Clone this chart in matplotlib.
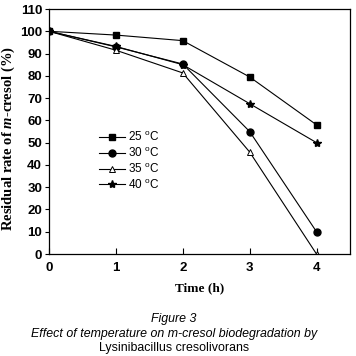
import matplotlib
matplotlib.use('Agg')
import matplotlib.pyplot as plt

plt.rcParams['mathtext.fontset'] = 'custom'
plt.rcParams['mathtext.it'] = 'Liberation Serif:italic:bold'
plt.rcParams['mathtext.rm'] = 'Liberation Serif:bold'
plt.rcParams['mathtext.sf'] = 'Liberation Sans'

time_h = [0, 1, 2, 3, 4]
t25 = [100, 98.3, 95.8, 79.5, 58]
t30 = [100, 93, 85.3, 55, 10]
t35 = [100, 91.5, 81.3, 45.8, 0]
t40 = [100, 93.2, 85, 67.5, 50]
labels = ['25 $^{\\mathsf{o}}$C', '30 $^{\\mathsf{o}}$C', '35 $^{\\mathsf{o}}$C', '40 $^{\\mathsf{o}}$C']

fig = plt.figure(figsize=(3.56, 3.56), dpi=100)
ax = fig.add_axes([0.1376, 0.2865, 0.8454, 0.6882])

ax.plot(time_h, t25, color='black', lw=0.8, marker='s', ms=4.5, label=labels[0])
ax.plot(time_h, t30, color='black', lw=0.8, marker='o', ms=5, label=labels[1])
ax.plot(time_h, t35, color='black', lw=0.8, marker='^', ms=5, mfc='white', mew=0.7, label=labels[2])
ax.plot(time_h, t40, color='black', lw=0.8, marker='*', ms=6, label=labels[3])

ax.set_xlim(0, 4.5)
ax.set_ylim(0, 110)
ax.set_xticks([0, 1, 2, 3, 4])
ax.set_yticks(range(0, 111, 10))
ax.tick_params(axis='x', direction='in', length=4, width=0.8, top=False, pad=6)
ax.tick_params(axis='y', direction='out', length=3, width=0.8, right=False, pad=2)
for lab in ax.get_xticklabels() + ax.get_yticklabels():
    lab.set_fontfamily('Liberation Sans')
    lab.set_fontweight('bold')
    lab.set_fontsize(9.5)
for s in ax.spines.values():
    s.set_linewidth(0.9)

ax.set_xlabel('Time (h)', fontfamily='Liberation Serif', fontweight='bold', fontsize=9.5, labelpad=6)
ax.set_ylabel('Residual rate of $m$-cresol (%)', fontfamily='Liberation Serif', fontweight='bold',
              fontsize=10.5)
ax.yaxis.set_label_coords(-0.105, 0.47)

ax.legend(loc='upper left', bbox_to_anchor=(0.15, 0.52), frameon=False,
          handlelength=2.2, handletextpad=0.3, labelspacing=0.22, borderaxespad=0,
          prop={'family': 'Liberation Sans', 'size': 8.5})

fig.text(0.489, 0.104, 'Figure 3', ha='center', va='center', fontfamily='Liberation Sans',
         style='italic', fontsize=8.9)
fig.text(0.489, 0.062, 'Effect of temperature on m-cresol biodegradation by', ha='center', va='center',
         fontfamily='Liberation Sans', style='italic', fontsize=8.9)
fig.text(0.489, 0.0225, 'Lysinibacillus cresolivorans', ha='center', va='center',
         fontfamily='Liberation Sans', fontsize=8.9)

fig.savefig('out.png', dpi=100)
